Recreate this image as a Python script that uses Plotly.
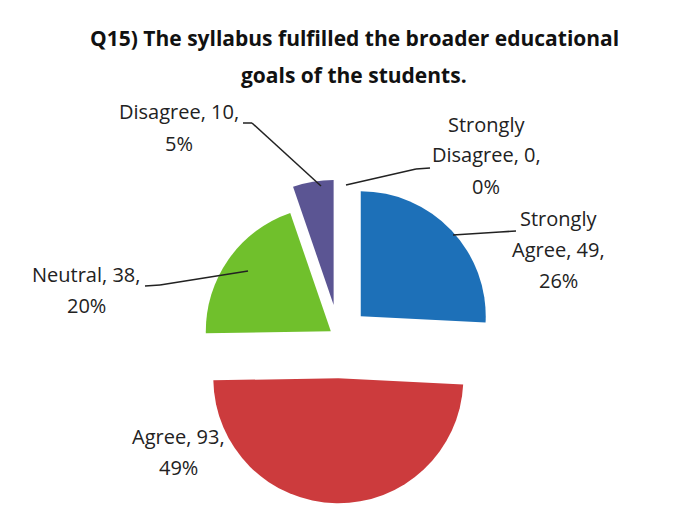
import plotly.graph_objects as go

W, H = 696, 507

categories = ["Strongly Agree", "Agree", "Neutral", "Disagree", "Strongly Disagree"]
values = [49, 93, 38, 10, 0]
percents = [26, 49, 20, 5, 0]
colors = ["#1d70b8", "#cc3b3d", "#70c02c", "#5b5593", "#8064a2"]
pulls = [0.24, 0.33, 0.08, 0.26, 0.0]

title_lines = ["Q15) The syllabus fulfilled the broader educational", "goals of the students."]

# label line breaking (text only), and placement (pixels, first line)
label_lines = {
    "Strongly Agree": ["Strongly", "Agree, 49,", "26%"],
    "Agree": ["Agree, 93,", "49%"],
    "Neutral": ["Neutral, 38,", "20%"],
    "Disagree": ["Disagree, 10,", "5%"],
    "Strongly Disagree": ["Strongly", "Disagree, 0,", "0%"],
}
label_pos = {
    "Strongly Agree": (550, 210),
    "Agree": (170, 428),
    "Neutral": (78, 266),
    "Disagree": (171, 104),
    "Strongly Disagree": (478, 116),
}
leaders = {
    "Strongly Agree": [(445, 227), (492, 224), (508, 223)],
    "Neutral": [(137, 278), (152, 277), (240, 263)],
    "Disagree": [(235, 115), (244, 115), (313, 178)],
    "Strongly Disagree": [(338, 177), (408, 161), (422, 160)],
}
LINE_GAP = 31

# pie placement (pixels)
PIE_CX, PIE_CY, PIE_R = 331, 329, 125
half = PIE_R * (1 + max(pulls))


def P(x, y):
    return x / W, 1 - y / H


fig = go.Figure(go.Pie(
    labels=categories,
    values=values,
    marker=dict(colors=colors, line=dict(width=0)),
    pull=pulls,
    sort=False,
    direction="clockwise",
    rotation=0,
    textinfo="none",
    hoverinfo="label+value+percent",
    domain=dict(x=[(PIE_CX - half) / W, (PIE_CX + half) / W],
                y=[1 - (PIE_CY + half) / H, 1 - (PIE_CY - half) / H]),
    showlegend=False,
))

annotations = []
for i, t in enumerate(title_lines):
    x, y = P(346, 30 + i * 37)
    annotations.append(dict(x=x, y=y, xref="paper", yref="paper", text="<b>" + t + "</b>",
                            showarrow=False, xanchor="center", yanchor="middle",
                            font=dict(family="Open Sans", size=21, color="#111")))

for cat in categories:
    lines = label_lines[cat]
    cx, cy = label_pos[cat]
    for j, ln in enumerate(lines):
        x, y = P(cx, cy + j * LINE_GAP)
        annotations.append(dict(x=x, y=y, xref="paper", yref="paper", text=ln,
                                showarrow=False, xanchor="center", yanchor="middle",
                                font=dict(family="Open Sans", size=20, color="#222")))

shapes = []
for cat, pts in leaders.items():
    for (x0, y0), (x1, y1) in zip(pts[:-1], pts[1:]):
        a0, b0 = P(x0, y0)
        a1, b1 = P(x1, y1)
        shapes.append(dict(type="line", xref="paper", yref="paper", x0=a0, y0=b0, x1=a1, y1=b1,
                           line=dict(color="#222", width=1.5)))

fig.update_layout(
    width=W, height=H,
    margin=dict(l=0, r=0, t=0, b=0),
    paper_bgcolor="white",
    plot_bgcolor="white",
    annotations=annotations,
    shapes=shapes,
)

fig.write_html("out.html")
